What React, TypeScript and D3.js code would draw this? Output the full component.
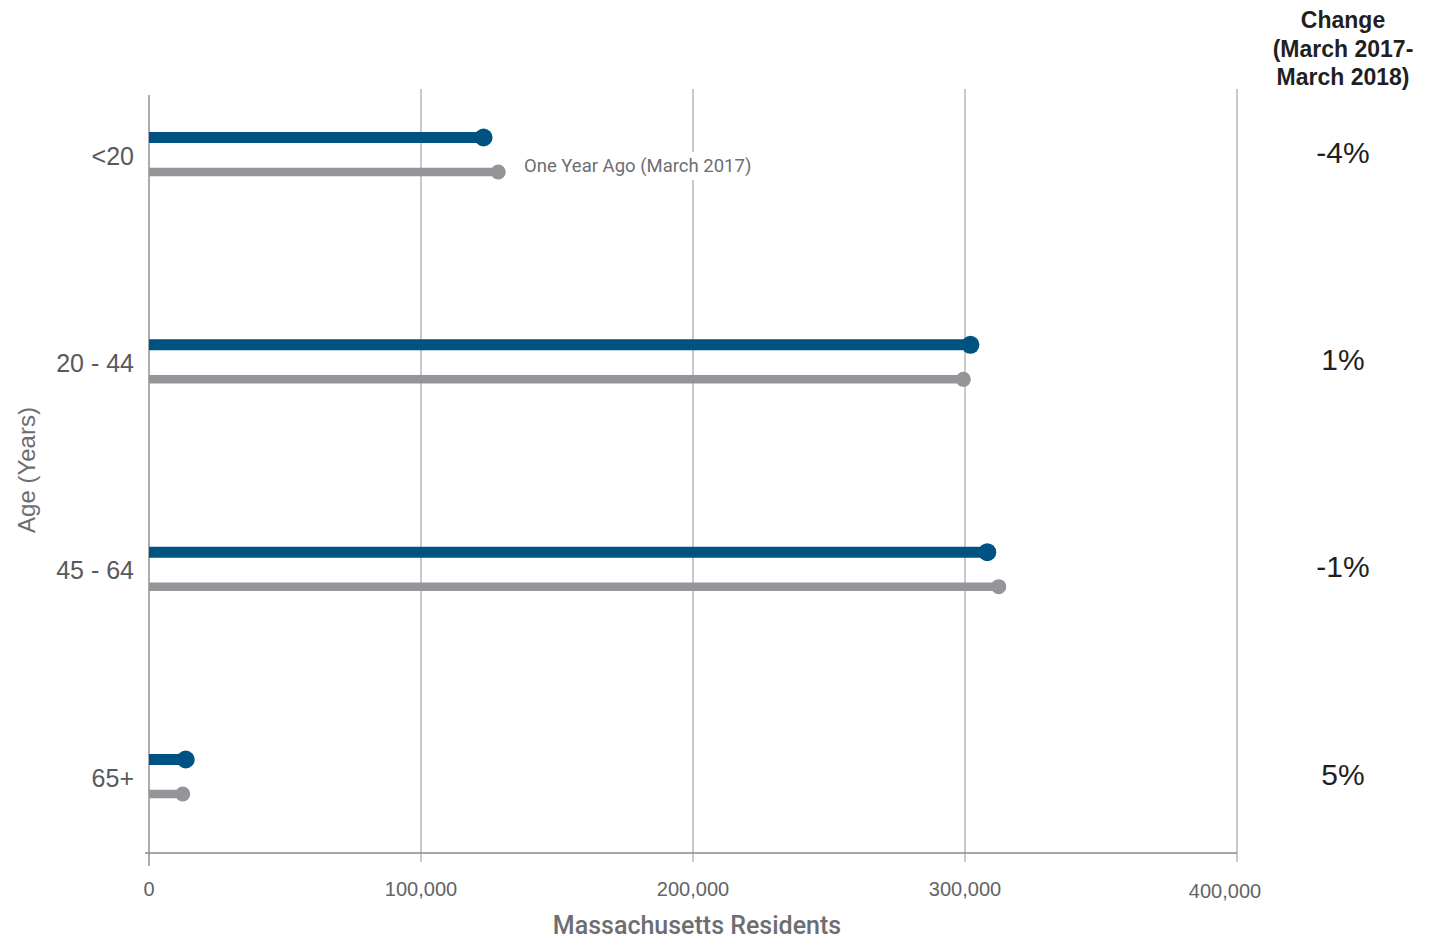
import React from "react";
import * as d3 from "d3";

const categories = ["<20", "20 - 44", "45 - 64", "65+"];
const currentValues = [123000, 302000, 308200, 13500];
const previousValues = [128400, 299400, 312400, 12400];
const changeLabels = ["-4%", "1%", "-1%", "5%"];
const xTicks = [0, 100000, 200000, 300000, 400000];
const headerLines = ["Change", "(March 2017-", "March 2018)"];
const annotation = "One Year Ago (March 2017)";

const W = 1433;
const H = 941;
const FONT = "'Liberation Sans', Arial, Helvetica, sans-serif";
const FONT2 = "Roboto, 'Liberation Sans', Arial, sans-serif";
const BLUE = "#005282";
const GRAY = "#949598";
const GRID = "#a3a3a3";
const TEXT = "#636466";

export default function App() {
  const x = d3.scaleLinear().domain([0, 400000]).range([149, 1237]);
  const y = d3.scalePoint<string>().domain(categories).range([155.5, 777.5]);
  const fmt = d3.format(",");
  const plotTop = 89;
  const axisY = 853;

  return (
    <svg
      width={W}
      height={H}
      viewBox={`0 0 ${W} ${H}`}
      style={{ position: "absolute", left: 0, top: 0, display: "block", background: "#fff" }}
      fontFamily={FONT}
    >
      {/* grid lines */}
      {xTicks.slice(1).map((t) => (
        <line key={"g" + t} x1={x(t)} x2={x(t)} y1={plotTop} y2={axisY + 9} stroke={GRID} strokeWidth={1.2} />
      ))}
      {/* y axis line */}
      <line x1={x(0)} x2={x(0)} y1={95} y2={axisY + 13} stroke="#808080" strokeWidth={1.3} />
      {/* x axis line */}
      <line x1={x(0) - 4} x2={x(400000)} y1={axisY} y2={axisY} stroke="#8a8a8a" strokeWidth={1.3} />

      {/* x tick labels */}
      {xTicks.map((t, i) => (
        <text
          key={"t" + t}
          x={x(t) + (i === xTicks.length - 1 ? -12 : 0)}
          y={896 + (i === xTicks.length - 1 ? 2 : 0)}
          textAnchor="middle"
          fontSize={20}
          fill={TEXT}
        >
          {fmt(t)}
        </text>
      ))}
      <text x={697} y={934} textAnchor="middle" fontSize={25} fontWeight={500} fontFamily={FONT2} fill="#6d6e71">
        Massachusetts Residents
      </text>

      {/* y labels */}
      {categories.map((c) => (
        <text key={"y" + c} x={134} y={(y(c) as number) + 9} textAnchor="end" fontSize={25} fill="#58595b">
          {c}
        </text>
      ))}
      <text
        transform={`translate(35,470) rotate(-90)`}
        textAnchor="middle"
        fontSize={24}
        fill="#6d6e71"
      >
        Age (Years)
      </text>

      {/* bars: previous */}
      {categories.map((c, i) => {
        const cy = (y(c) as number) + 16.5;
        return (
          <g key={"p" + c}>
            <line x1={x(0)} x2={x(previousValues[i])} y1={cy} y2={cy} stroke={GRAY} strokeWidth={8.5} />
            <circle cx={x(previousValues[i])} cy={cy} r={7.5} fill={GRAY} />
          </g>
        );
      })}
      {/* bars: current */}
      {categories.map((c, i) => {
        const cy = (y(c) as number) - 18;
        return (
          <g key={"c" + c}>
            <line x1={x(0)} x2={x(currentValues[i])} y1={cy} y2={cy} stroke={BLUE} strokeWidth={11} />
            <circle cx={x(currentValues[i])} cy={cy} r={9} fill={BLUE} />
          </g>
        );
      })}

      {/* annotation */}
      <rect x={518} y={152} width={240} height={28} fill="#fff" />
      <text x={524} y={172} fontSize={18.5} fontFamily={FONT2} fill="#6d6e71">
        {annotation}
      </text>

      {/* change header */}
      {headerLines.map((l, i) => (
        <text key={"h" + i} x={1343} y={28 + i * 28.5} textAnchor="middle" fontSize={23} fontWeight="bold" fill="#231f20">
          {l}
        </text>
      ))}
      {changeLabels.map((l, i) => (
        <text
          key={"ch" + i}
          x={1343}
          y={(y(categories[i]) as number) + 7}
          textAnchor="middle"
          fontSize={30}
          fill="#231f20"
        >
          {l}
        </text>
      ))}
    </svg>
  );
}
